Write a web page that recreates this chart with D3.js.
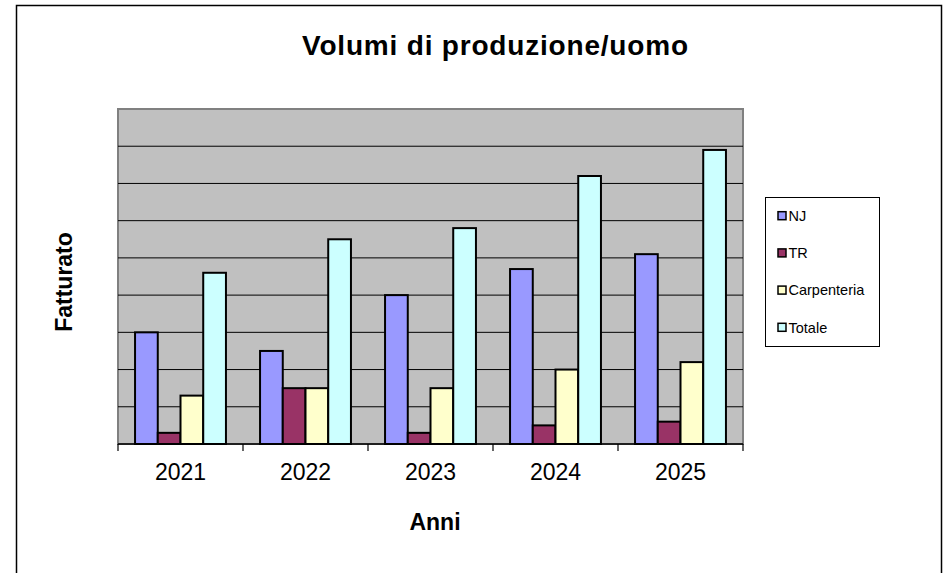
<!DOCTYPE html>
<html>
<head>
<meta charset="utf-8">
<script src="https://d3js.org/d3.v7.min.js"></script>
<style>
    body { margin: 0; background: #fff; }
    text { font-family: "Liberation Sans", Arial, sans-serif; fill: #000; }
    .grid line { stroke: #000; stroke-width: 1; }
    .bars rect { stroke: #000; stroke-width: 2px; }
</style>
</head>
<body>
<svg class="target" width="950" height="573"></svg>
<script>

    // data
    const years = ["2021", "2022", "2023", "2024", "2025"];
    const series = ["NJ", "TR", "Carpenteria", "Totale"];
    const nj = [3.0, 2.5, 4.0, 4.7, 5.1];
    const tr = [0.3, 1.5, 0.3, 0.5, 0.6];
    const carpenteria = [1.3, 1.5, 1.5, 2.0, 2.2];
    const totale = [4.6, 5.5, 5.8, 7.2, 7.9];
    const colors = ["#9999ff", "#993366", "#ffffcc", "#ccffff"];

    const values = [nj, tr, carpenteria, totale];

    let svg = d3.select(".target");

    // outer chart frame
    svg.append("rect")
        .attr("x", 16.5).attr("y", 5.5)
        .attr("width", 925).attr("height", 600)
        .attr("fill", "#fff")
        .attr("stroke", "#000")
        .attr("stroke-width", 1.5);

    let plot = {left: 118, right: 743, top: 109, bottom: 444};

    let x = d3.scaleBand()
        .domain(years)
        .range([plot.left, plot.right]);

    let xs = d3.scaleBand()
        .domain(series)
        .range([0, x.bandwidth()])
        .paddingInner(0)
        .paddingOuter(0.75);

    let y = d3.scaleLinear()
        .domain([0, 9])
        .range([plot.bottom, plot.top]);

    let color = d3.scaleOrdinal().domain(series).range(colors);

    // plot area
    svg.append("rect")
        .attr("x", plot.left).attr("y", plot.top)
        .attr("width", plot.right - plot.left)
        .attr("height", plot.bottom - plot.top)
        .attr("fill", "#c0c0c0")
        .attr("stroke", "#808080")
        .attr("stroke-width", 2);

    svg.append("g")
        .attr("class", "grid")
        .selectAll("line")
        .data(d3.range(1, 9))
        .enter().append("line")
        .attr("x1", plot.left).attr("x2", plot.right)
        .attr("y1", d => y(d)).attr("y2", d => y(d));

    // bars
    let rows = years.map((yr, i) => ({
        year: yr,
        items: series.map((s, j) => ({key: s, value: values[j][i]}))
    }));

    svg.append("g")
        .attr("class", "bars")
        .selectAll("g")
        .data(rows)
        .enter().append("g")
        .attr("transform", d => "translate(" + x(d.year) + ",0)")
        .selectAll("rect")
        .data(d => d.items)
        .enter().append("rect")
        .attr("x", d => xs(d.key))
        .attr("width", xs.bandwidth())
        .attr("y", d => y(d.value))
        .attr("height", d => y(0) - y(d.value))
        .attr("fill", d => color(d.key));

    // category axis
    let axis = svg.append("g");
    axis.append("line")
        .attr("x1", plot.left).attr("x2", plot.right)
        .attr("y1", plot.bottom).attr("y2", plot.bottom)
        .attr("stroke", "#000").attr("stroke-width", 1.5);

    let bounds = years.map(d => x(d)).concat([plot.right]);
    axis.selectAll(".tick")
        .data(bounds)
        .enter().append("line")
        .attr("x1", d => d).attr("x2", d => d)
        .attr("y1", plot.bottom).attr("y2", plot.bottom + 7)
        .attr("stroke", "#000").attr("stroke-width", 1.2);

    axis.selectAll("text")
        .data(years)
        .enter().append("text")
        .attr("x", d => x(d) + x.bandwidth() / 2)
        .attr("y", 480)
        .attr("text-anchor", "middle")
        .style("font-size", "23px")
        .text(d => d);

    // titles
    svg.append("text")
        .attr("x", 495).attr("y", 55)
        .attr("text-anchor", "middle")
        .style("font-size", "28px")
        .style("font-weight", "bold")
        .attr("textLength", 386)
        .text("Volumi di produzione/uomo");

    svg.append("text")
        .attr("x", 435).attr("y", 530)
        .attr("text-anchor", "middle")
        .style("font-size", "23px")
        .style("font-weight", "bold")
        .text("Anni");

    svg.append("text")
        .attr("transform", "translate(71.5,282) rotate(-90)")
        .attr("text-anchor", "middle")
        .style("font-size", "23px")
        .style("font-weight", "bold")
        .text("Fatturato");

    // legend
    let legend = svg.append("g");
    legend.append("rect")
        .attr("x", 765.5).attr("y", 197.5)
        .attr("width", 114).attr("height", 149)
        .attr("fill", "#fff")
        .attr("stroke", "#000")
        .attr("stroke-width", 1);

    let item = legend.selectAll(".item")
        .data(series)
        .enter().append("g")
        .attr("transform", (d, i) => "translate(0," + (215.7 + i * 37.2) + ")");

    item.append("rect")
        .attr("x", 778).attr("y", -4)
        .attr("width", 8).attr("height", 8)
        .attr("fill", d => color(d))
        .attr("stroke", "#000")
        .attr("stroke-width", 1.5);

    item.append("text")
        .attr("x", 788.5)
        .attr("dy", "0.36em")
        .style("font-size", "14.5px")
        .text(d => d);

</script>
</body>
</html>
